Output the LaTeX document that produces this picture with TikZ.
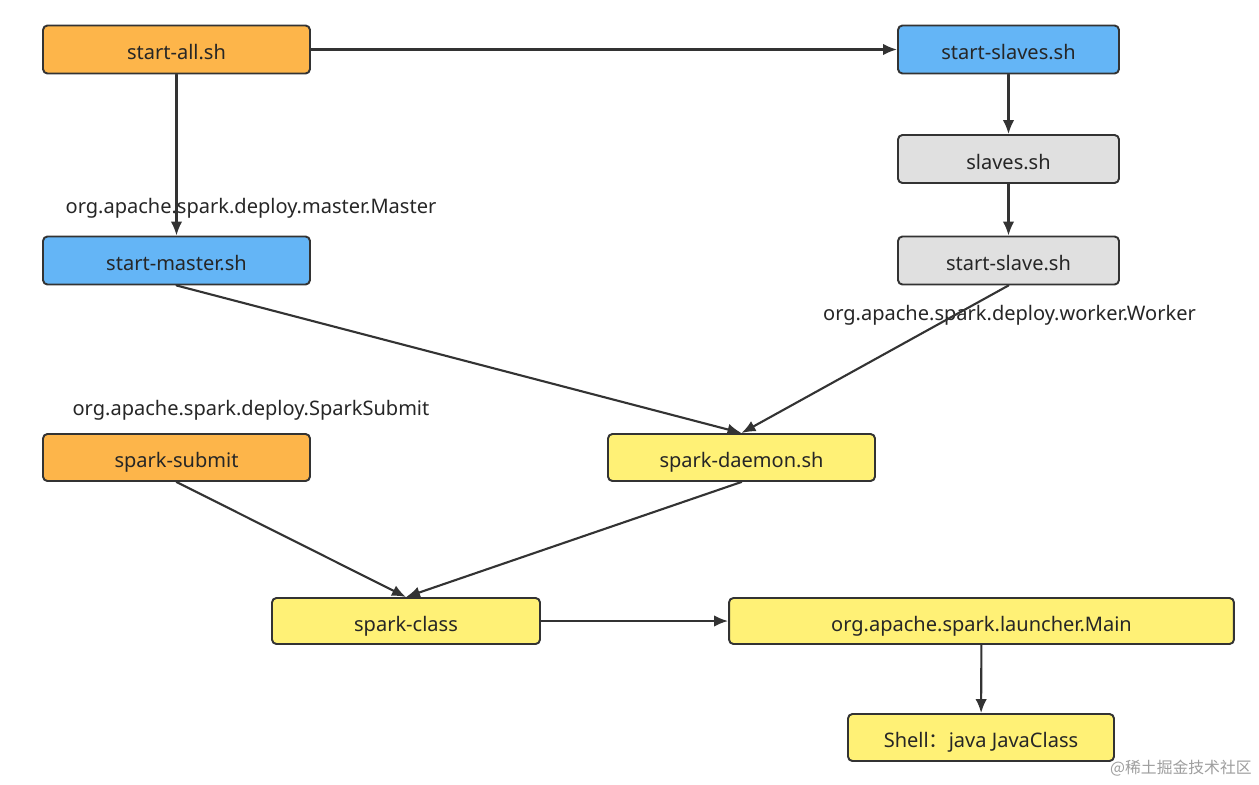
\documentclass[tikz,border=0pt]{standalone}
\usepackage{fontspec}
\setmainfont{Noto Sans}
\newfontfamily\cjk{Noto Sans CJK SC}
\usetikzlibrary{arrows.meta}
\definecolor{boxorange}{RGB}{253,181,74}
\definecolor{boxblue}{RGB}{100,181,246}
\definecolor{boxgrey}{RGB}{224,224,224}
\definecolor{boxyellow}{RGB}{255,241,118}
\definecolor{edgegrey}{RGB}{51,51,51}
\begin{document}
\begin{tikzpicture}[x=0.02cm,y=-0.02cm,line join=round,line cap=round,
	box/.style={draw=edgegrey,line width=1.1pt,rounded corners=2.5pt,minimum height=0.96cm,inner sep=0pt,font=\fontsize{11.4}{13}\selectfont,text=black!85,text height=1.15em,text depth=0pt},
	wide/.style={box,minimum width=5.34cm},
	slim/.style={box,minimum width=4.42cm},
	lbl/.style={font=\fontsize{11.4}{13}\selectfont,text=black!85,inner sep=0pt,anchor=base},
	conn/.style={draw=edgegrey,line width=1.2pt,-{Latex[length=2.8mm,width=2.3mm]}}]
	\useasboundingbox (0,0) rectangle (1259,785);
	\fill[white] (0,0) rectangle (1259,785);
	% boxes
	\node[wide,fill=boxorange] (all) at (176.5,49.5) {start-all.sh};
	\node[slim,fill=boxblue] (slaves) at (1008.5,49.5) {start-slaves.sh};
	\node[slim,fill=boxgrey] (sl) at (1008.5,159) {slaves.sh};
	\node[slim,fill=boxgrey] (slave) at (1008.5,260.5) {start-slave.sh};
	\node[wide,fill=boxblue] (master) at (176.5,260.5) {start-master.sh};
	\node[wide,fill=boxorange,minimum height=0.94cm] (submit) at (176.5,457.5) {spark-submit};
	\node[wide,fill=boxyellow,minimum height=0.94cm] (daemon) at (741.5,457.5) {spark-daemon.sh};
	\node[wide,fill=boxyellow,minimum width=5.36cm,minimum height=0.92cm] (class) at (406,621) {spark-class};
	\node[box,fill=boxyellow,minimum width=10.1cm,minimum height=0.92cm] (main) at (981.5,621) {org.apache.spark.launcher.Main};
	\node[wide,fill=boxyellow,minimum width=5.32cm,minimum height=0.94cm] (shell) at (981,737.5) {Shell{\cjk ：}java JavaClass};
	% labels
	\node[lbl] (mlbl) at (251,213) {org.apache.spark.deploy.master.Master};
	\node[lbl] (wlbl) at (1009.5,320) {org.apache.spark.deploy.worker.Worker};
	\node[lbl] (slbl) at (251,415) {org.apache.spark.deploy.SparkSubmit};
	% connectors
	\draw[conn] (all) -- (slaves);
	\draw[conn] (all) -- (master);
	\draw[conn] (slaves) -- (sl);
	\draw[conn] (sl) -- (slave);
	\draw[conn] (master.south) -- (daemon.north);
	\draw[conn] (slave.south) -- (daemon.north);
	\draw[conn] (submit.south) -- (class.north);
	\draw[conn] (daemon.south) -- (class.north);
	\draw[conn] (class) -- (main);
	\draw[conn] (main) -- (shell);
	\node[font=\cjk\fontsize{9}{10}\selectfont,text=black!38,anchor=east,inner sep=0pt] (mark) at (1252,768) {@稀土掘金技术社区};
\end{tikzpicture}
\end{document}
